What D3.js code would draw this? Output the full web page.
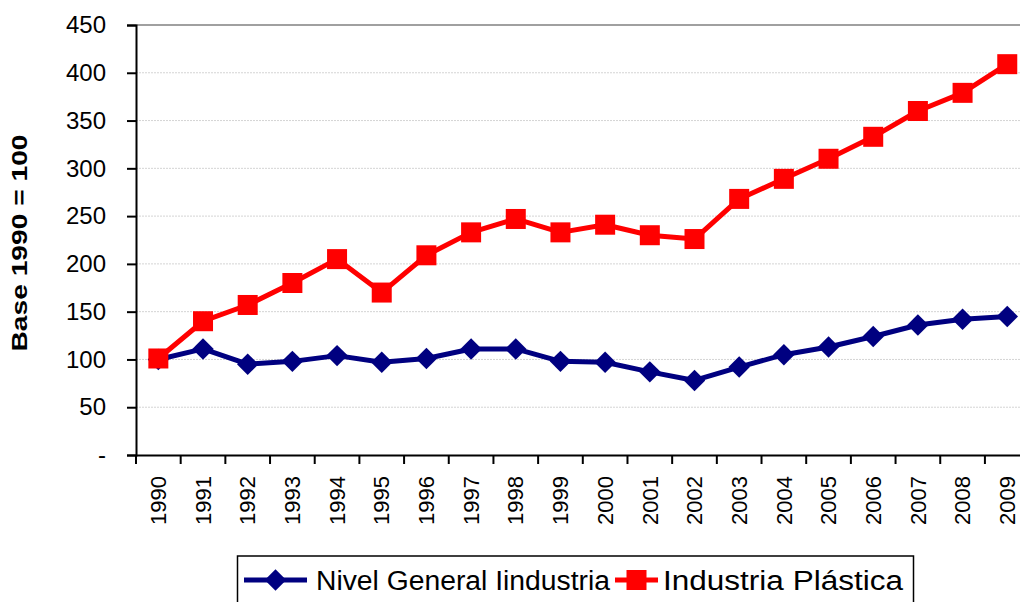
<!DOCTYPE html>
<html>
<head>
<meta charset="utf-8">
<script src="https://cdn.jsdelivr.net/npm/d3@7"></script>
<style>
  html, body { margin: 0; padding: 0; background: #fff; }
  svg { display: block; }
  svg text { font-family: Arial, sans-serif; }
</style>
</head>
<body>
<div id="chart"></div>
<script>
// datos
const years = ["1990","1991","1992","1993","1994","1995","1996","1997","1998","1999",
               "2000","2001","2002","2003","2004","2005","2006","2007","2008","2009"];
const nivelGeneral = [100, 111, 95, 98, 104, 97, 101, 111, 111, 98,
                      97, 87, 78, 92, 105, 113, 124, 136, 142, 145];
const plastica = [101, 140, 157, 180, 205, 170, 209, 233, 247, 233,
                  241, 230, 226, 268, 289, 310, 333, 360, 379, 409];
const yTicks = [0, 50, 100, 150, 200, 250, 300, 350, 400, 450];
const seriesNames = ["Nivel General Iindustria", "Industria Plástica"];

const width = 1020, height = 602;
const plotLeft = 136, plotTop = 25, plotBottom = 455;
const band = 44.68;

const svg = d3.select("#chart").append("svg")
  .attr("width", width)
  .attr("height", height);

const x = d3.scaleBand()
  .domain(years)
  .range([plotLeft, plotLeft + band * years.length]);

const y = d3.scaleLinear()
  .domain([0, 450])
  .range([plotBottom, plotTop]);

// grid lines
svg.append("g")
  .selectAll("line")
  .data(yTicks.filter(d => d > 0 && d < 450))
  .enter()
  .append("line")
  .attr("x1", plotLeft)
  .attr("x2", width)
  .attr("y1", d => y(d))
  .attr("y2", d => y(d))
  .attr("stroke", "#d4d4d4")
  .attr("stroke-width", 1)
  .attr("stroke-dasharray", "2,1");

// top border line
svg.append("line")
  .attr("x1", plotLeft).attr("x2", width)
  .attr("y1", y(450)).attr("y2", y(450))
  .attr("stroke", "#808080")
  .attr("stroke-width", 1.5);

// Y axis
const yAxis = svg.append("g")
  .attr("transform", "translate(" + plotLeft + ",0)")
  .call(d3.axisLeft(y).tickValues(yTicks).tickSizeOuter(0).tickSize(9).tickPadding(21)
    .tickFormat(d => d === 0 ? "-" : d));
yAxis.select(".domain").attr("stroke", "#000").attr("stroke-width", 2);
yAxis.selectAll(".tick line").attr("stroke", "#000").attr("stroke-width", 2);
yAxis.selectAll("text")
  .style("font-size", "24px")
  .attr("fill", "#000");

// X axis
const xAxis = svg.append("g")
  .attr("transform", "translate(0," + plotBottom + ")")
  .call(d3.axisBottom(x).tickSize(0).tickSizeOuter(0));
xAxis.select(".domain").attr("stroke", "#000").attr("stroke-width", 2);
xAxis.selectAll("text")
  .style("font-size", "22px")
  .attr("fill", "#000")
  .attr("text-anchor", "end")
  .attr("transform", "rotate(-90)")
  .attr("x", -21)
  .attr("y", 0)
  .attr("dy", "0.35em");

// x tick marks at band boundaries
svg.append("g")
  .selectAll("line")
  .data(years)
  .enter()
  .append("line")
  .attr("x1", d => x(d))
  .attr("x2", d => x(d))
  .attr("y1", plotBottom)
  .attr("y2", plotBottom + 9)
  .attr("stroke", "#000")
  .attr("stroke-width", 2);

// Y title
svg.append("text")
  .attr("transform", "translate(27," + 243 + ")rotate(-90)")
  .attr("text-anchor", "middle")
  .style("font-size", "22px")
  .style("font-weight", "bold")
  .attr("textLength", 217)
  .attr("lengthAdjust", "spacingAndGlyphs")
  .text("Base 1990 = 100");

const cx = d => x(d) + x.bandwidth() / 2;
const line = d3.line()
  .x((d, i) => cx(years[i]))
  .y(d => y(d));

// blue series
svg.append("path")
  .datum(nivelGeneral)
  .attr("d", line)
  .attr("fill", "none")
  .attr("stroke", "#000080")
  .attr("stroke-width", 5)
  .attr("stroke-linejoin", "round");

svg.append("g")
  .selectAll("path")
  .data(nivelGeneral)
  .enter()
  .append("path")
  .attr("d", d3.symbol().type(d3.symbolSquare).size(230))
  .attr("transform", (d, i) => "translate(" + cx(years[i]) + "," + y(d) + ")rotate(45)")
  .attr("fill", "#000080");

// red series
svg.append("path")
  .datum(plastica)
  .attr("d", line)
  .attr("fill", "none")
  .attr("stroke", "#ff0000")
  .attr("stroke-width", 5)
  .attr("stroke-linejoin", "round");

svg.append("g")
  .selectAll("rect")
  .data(plastica)
  .enter()
  .append("rect")
  .attr("x", (d, i) => cx(years[i]) - 10)
  .attr("y", d => y(d) - 10)
  .attr("width", 20)
  .attr("height", 20)
  .attr("fill", "#ff0000");

// legend
const legend = svg.append("g");
legend.append("rect")
  .attr("x", 237.5).attr("y", 556)
  .attr("width", 676).attr("height", 60)
  .attr("fill", "#fff")
  .attr("stroke", "#000")
  .attr("stroke-width", 1.5);

const legendItems = [
  { name: seriesNames[0], color: "#000080", shape: "diamond", x0: 244, x1: 307, tx: 316, tw: 294 },
  { name: seriesNames[1], color: "#ff0000", shape: "square", x0: 615, x1: 658, tx: 663, tw: 240 }
];
const ly = 580;
legendItems.forEach(it => {
  legend.append("line")
    .attr("x1", it.x0).attr("x2", it.x1)
    .attr("y1", ly).attr("y2", ly)
    .attr("stroke", it.color).attr("stroke-width", 5);
  const mx = (it.x0 + it.x1) / 2;
  if (it.shape === "diamond") {
    legend.append("path")
      .attr("d", d3.symbol().type(d3.symbolSquare).size(230))
      .attr("transform", "translate(" + mx + "," + ly + ")rotate(45)")
      .attr("fill", it.color);
  } else {
    legend.append("rect")
      .attr("x", mx - 10).attr("y", ly - 10)
      .attr("width", 20).attr("height", 20)
      .attr("fill", it.color);
  }
  legend.append("text")
    .attr("x", it.tx).attr("y", ly)
    .attr("dy", "0.36em")
    .style("font-size", "27px")
    .attr("textLength", it.tw)
    .attr("lengthAdjust", "spacingAndGlyphs")
    .attr("fill", "#000")
    .text(it.name);
});
</script>
</body>
</html>
